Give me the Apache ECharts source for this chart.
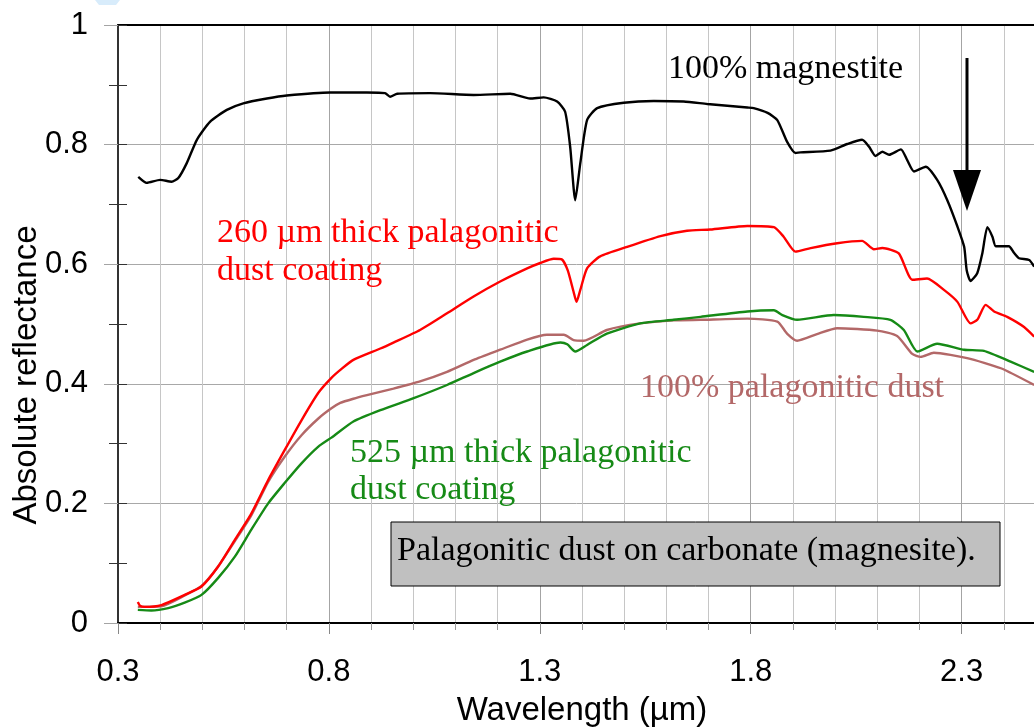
<!DOCTYPE html>
<html>
<head>
<meta charset="utf-8">
<script src="https://cdn.jsdelivr.net/npm/echarts@6/dist/echarts.min.js"></script>
<style>
  html, body { margin: 0; padding: 0; background: #fff; }
  #chart { width: 1034px; height: 727px; }
</style>
</head>
<body>
<div id="chart"></div>
<script>
// 100% magnesite
const magWl = [0.348, 0.368, 0.400, 0.427, 0.443, 0.463, 0.487, 0.518, 0.558, 0.597, 0.653, 0.700, 0.803, 0.890, 0.933, 0.945, 0.962, 1.040, 1.143, 1.230, 1.277, 1.309, 1.341, 1.360, 1.372, 1.384, 1.396, 1.412, 1.436, 1.499, 1.570, 1.641, 1.697, 1.792, 1.807, 1.840, 1.863, 1.886, 1.906, 1.918, 1.989, 2.029, 2.064, 2.080, 2.096, 2.112, 2.128, 2.156, 2.171, 2.187, 2.215, 2.242, 2.266, 2.290, 2.306, 2.312, 2.321, 2.337, 2.349, 2.361, 2.373, 2.381, 2.412, 2.424, 2.436, 2.460, 2.472]
const magR = [0.746, 0.736, 0.741, 0.738, 0.744, 0.769, 0.808, 0.838, 0.858, 0.869, 0.877, 0.882, 0.887, 0.887, 0.886, 0.880, 0.885, 0.886, 0.883, 0.885, 0.877, 0.879, 0.872, 0.855, 0.796, 0.707, 0.769, 0.841, 0.861, 0.870, 0.873, 0.872, 0.868, 0.862, 0.861, 0.853, 0.841, 0.805, 0.786, 0.787, 0.790, 0.801, 0.808, 0.797, 0.781, 0.788, 0.783, 0.792, 0.774, 0.755, 0.763, 0.741, 0.707, 0.663, 0.629, 0.590, 0.572, 0.585, 0.618, 0.662, 0.646, 0.630, 0.630, 0.619, 0.610, 0.607, 0.596]

// 260 um coating
const thinWl = [0.347, 0.352, 0.363, 0.403, 0.458, 0.498, 0.537, 0.577, 0.616, 0.656, 0.695, 0.735, 0.775, 0.806, 0.830, 0.858, 0.922, 0.953, 1.016, 1.080, 1.143, 1.206, 1.270, 1.301, 1.333, 1.352, 1.366, 1.380, 1.387, 1.396, 1.412, 1.443, 1.507, 1.586, 1.649, 1.704, 1.792, 1.855, 1.878, 1.906, 1.942, 2.005, 2.064, 2.092, 2.112, 2.151, 2.183, 2.218, 2.258, 2.290, 2.321, 2.337, 2.357, 2.377, 2.408, 2.448, 2.472]
const thinR = [0.035, 0.029, 0.027, 0.030, 0.047, 0.061, 0.094, 0.139, 0.183, 0.239, 0.289, 0.339, 0.385, 0.410, 0.425, 0.440, 0.459, 0.469, 0.490, 0.518, 0.546, 0.571, 0.593, 0.602, 0.609, 0.608, 0.590, 0.554, 0.537, 0.557, 0.593, 0.613, 0.629, 0.647, 0.656, 0.658, 0.664, 0.662, 0.646, 0.621, 0.627, 0.635, 0.639, 0.625, 0.627, 0.618, 0.574, 0.576, 0.557, 0.537, 0.501, 0.507, 0.532, 0.521, 0.512, 0.495, 0.479]

// 100% palagonitic dust
const dustWl = [0.347, 0.403, 0.458, 0.498, 0.537, 0.577, 0.616, 0.656, 0.695, 0.735, 0.775, 0.806, 0.827, 0.858, 0.890, 0.953, 1.016, 1.080, 1.143, 1.206, 1.270, 1.317, 1.357, 1.380, 1.404, 1.459, 1.538, 1.617, 1.681, 1.792, 1.863, 1.886, 1.910, 1.957, 2.005, 2.100, 2.147, 2.183, 2.203, 2.234, 2.313, 2.393, 2.472]
const dustR = [0.027, 0.028, 0.046, 0.062, 0.094, 0.137, 0.180, 0.236, 0.278, 0.314, 0.342, 0.359, 0.368, 0.375, 0.381, 0.392, 0.404, 0.420, 0.440, 0.457, 0.474, 0.482, 0.482, 0.473, 0.472, 0.490, 0.501, 0.506, 0.507, 0.509, 0.504, 0.484, 0.472, 0.483, 0.493, 0.489, 0.480, 0.450, 0.445, 0.452, 0.443, 0.426, 0.398]

// 525 um coating
const thickWl = [0.347, 0.379, 0.419, 0.458, 0.498, 0.537, 0.577, 0.616, 0.656, 0.695, 0.735, 0.775, 0.806, 0.858, 0.922, 1.001, 1.080, 1.143, 1.206, 1.270, 1.349, 1.365, 1.384, 1.412, 1.459, 1.538, 1.617, 1.681, 1.792, 1.855, 1.875, 1.910, 1.997, 2.068, 2.131, 2.163, 2.195, 2.242, 2.306, 2.353, 2.416, 2.472]
const thickR = [0.022, 0.021, 0.025, 0.034, 0.047, 0.075, 0.111, 0.156, 0.200, 0.234, 0.267, 0.295, 0.310, 0.337, 0.356, 0.376, 0.398, 0.418, 0.437, 0.454, 0.469, 0.466, 0.454, 0.465, 0.484, 0.501, 0.507, 0.512, 0.521, 0.523, 0.515, 0.507, 0.515, 0.512, 0.507, 0.490, 0.454, 0.467, 0.457, 0.455, 0.437, 0.420]

function zip(xs, ys) {
  return xs.map((x, i) => [x, ys[i]])
}

const sans = '"Liberation Sans", Arial, sans-serif'
const serif = '"Liberation Serif", "Times New Roman", serif'

function lineSeries(name, wl, r, color) {
  return {
    name: name,
    type: 'line',
    data: zip(wl, r),
    showSymbol: false,
    smooth: 0.2,
    lineStyle: { color: color, width: 2.4 },
    itemStyle: { color: color },
    z: 3
  }
}

function label(text, x, y, color, size) {
  return {
    type: 'text', x: x, y: y, z: 100,
    style: { text: text, fill: color, font: (size || 34) + 'px ' + serif, verticalAlign: 'middle' }
  }
}

const chart = echarts.init(document.getElementById('chart'))
chart.setOption({
  animation: false,
  backgroundColor: '#fff',
  grid: { left: 118, right: -12, top: 25, bottom: 104, outerBoundsMode: 'none', containLabel: false },
  xAxis: [
    {
      // 0.1 grid
      type: 'value', min: 0.3, max: 2.5, interval: 0.1,
      axisLine: { show: true, lineStyle: { color: '#000', width: 2 } },
      axisTick: { show: true, length: 7, lineStyle: { color: '#999' } },
      axisLabel: { show: false },
      splitLine: { show: true, lineStyle: { color: '#c6c6c6', width: 1 } }
    },
    {
      type: 'value', min: 0.3, max: 2.5, interval: 0.5, position: 'bottom',
      name: 'Wavelength (µm)', nameLocation: 'middle', nameGap: 71,
      nameTextStyle: { color: '#000', fontSize: 33, fontFamily: sans },
      axisLine: { show: false },
      axisTick: { show: true, length: 11, lineStyle: { color: '#888' } },
      axisLabel: { color: '#000', fontSize: 31, fontFamily: sans, margin: 34, showMaxLabel: false },
      splitLine: { show: true, lineStyle: { color: '#a4a4a4', width: 1 } }
    },
    {
      type: 'value', min: 0.3, max: 2.5, position: 'top',
      axisLine: { show: true, onZero: false, lineStyle: { color: '#000', width: 2 } },
      axisTick: { show: false }, axisLabel: { show: false }, splitLine: { show: false }
    }
  ],
  yAxis: [
    {
      type: 'value', min: 0, max: 1, interval: 0.2,
      axisLine: { show: true, lineStyle: { color: '#333', width: 2 } },
      axisTick: { show: true, length: 14, lineStyle: { color: '#a4a4a4' } },
      minorTick: { show: true, splitNumber: 2, length: 9, lineStyle: { color: '#333' } },
      axisLabel: { color: '#000', fontSize: 31, fontFamily: sans, margin: 30 },
      splitLine: { show: true, lineStyle: { color: '#a8a8a8', width: 1 } }
    },
    {
      type: 'value', min: 0, max: 1, interval: 0.1, position: 'left',
      axisLine: { show: false },
      axisTick: { show: true, inside: true, length: 9, lineStyle: { color: '#333' } },
      axisLabel: { show: false }, splitLine: { show: false }
    }
  ],
  series: [
    lineSeries('100% magnestite', magWl, magR, '#000000'),
    lineSeries('100% palagonitic dust', dustWl, dustR, '#b36868'),
    lineSeries('525 µm thick palagonitic dust coating', thickWl, thickR, '#168a16'),
    lineSeries('260 µm thick palagonitic dust coating', thinWl, thinR, '#ff0000')
  ],
  graphic: [
    {
      type: 'polygon', z: 100,
      shape: { points: [[95, 0], [120, 0], [116, 5], [99, 5]] },
      style: { fill: '#d8ecfb' }
    },
    {
      type: 'text', x: 27, y: 375, rotation: Math.PI / 2, z: 100,
      style: { text: 'Absolute reflectance', fill: '#000', font: '33px ' + sans, align: 'center', verticalAlign: 'middle' }
    },
    label('100% magnestite', 668, 69, '#000'),
    label('260 µm thick palagonitic', 217, 233, '#ff0000'),
    label('dust coating', 217, 271, '#ff0000'),
    label('100% palagonitic dust', 640, 388, '#b36868'),
    label('525 µm thick palagonitic', 350, 453, '#168a16'),
    label('dust coating', 350, 490, '#168a16'),
    {
      type: 'rect', z: 99,
      shape: { x: 391, y: 522, width: 609, height: 64 },
      style: { fill: '#c0c0c0', stroke: '#000', lineWidth: 1 }
    },
    label('Palagonitic dust on carbonate (magnesite).', 397, 551, '#000'),
    {
      type: 'line', z: 100,
      shape: { x1: 967, y1: 58, x2: 967, y2: 180 },
      style: { stroke: '#000', lineWidth: 3 }
    },
    {
      type: 'polygon', z: 100,
      shape: { points: [[953, 170], [981, 170], [967, 211]] },
      style: { fill: '#000' }
    }
  ]
})
</script>
</body>
</html>
